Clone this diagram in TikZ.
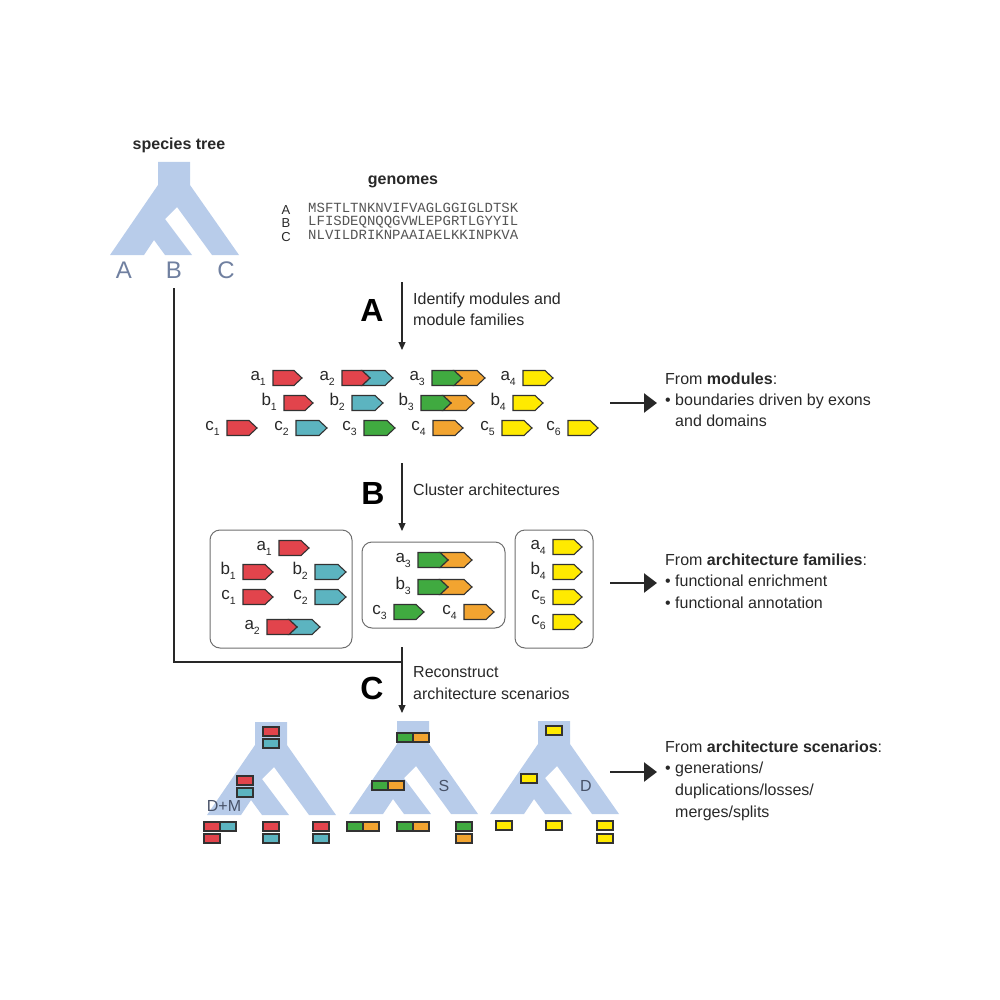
\documentclass[tikz,border=0pt]{standalone}
\usepackage{fontspec}
\setmainfont{Liberation Sans}
\setmonofont{Liberation Mono}
\usetikzlibrary{arrows.meta}
\definecolor{tblue}{RGB}{184,204,234}
\definecolor{mred}{RGB}{226,68,76}
\definecolor{mcyan}{RGB}{92,180,192}
\definecolor{mgreen}{RGB}{64,170,64}
\definecolor{morange}{RGB}{242,164,48}
\definecolor{myellow}{RGB}{255,234,0}
\definecolor{outl}{RGB}{50,50,50}
\definecolor{txtc}{RGB}{40,40,40}
\definecolor{leafc}{RGB}{112,128,160}
\definecolor{evc}{RGB}{72,82,104}
\definecolor{seqc}{RGB}{85,85,85}
\definecolor{boxc}{RGB}{110,110,110}

\newcommand\modarr[4]{\filldraw[modshape,fill=#4] ({#1},{#3-7.5}) -- ({#2-8},{#3-7.5}) -- ({#2},{#3}) -- ({#2-8},{#3+7.5}) -- ({#1},{#3+7.5}) -- cycle;}
\newcommand\twoarr[6]{\filldraw[modshape,fill=#6] ({#2-8},{#4-7.5}) -- ({#3-8},{#4-7.5}) -- ({#3},{#4}) -- ({#3-8},{#4+7.5}) -- ({#2-8},{#4+7.5}) -- ({#2},{#4}) -- cycle;
 \modarr{#1}{#2}{#4}{#5}}
\newcommand\modlabel[5]{\node[modlab,anchor=mid east] (#1) at ({#2-7},{#3}) {#4\raisebox{-0.55ex}{\fontsize{10.5}{10.5}\selectfont #5}};}
\newcommand\gbox[3]{\filldraw[modshape,fill=#3] (#1,#2) rectangle ++(16,9);}
\newcommand\gtree[2]{\fill[tblue] ({#1-16},{#2}) -- ({#1+16},{#2}) -- ({#1+16},{#2+23}) -- ({#1+65},{#2+93}) -- ({#1+38},{#2+93}) -- ({#1+3},{#2+45}) -- ({#1-9},{#2+57}) -- ({#1+18},{#2+93}) -- ({#1-9},{#2+93}) -- ({#1-20},{#2+78}) -- ({#1-30},{#2+93}) -- ({#1-64},{#2+93}) -- ({#1-16},{#2+23}) -- cycle;}

\tikzset{
  modshape/.style={draw=outl,line width=1.1pt,line join=miter},
  modlab/.style={inner sep=0,text=txtc,font=\fontsize{17}{17}\selectfont},
  txt/.style={inner sep=0,text=txtc,font=\fontsize{16}{19}\selectfont,anchor=mid west},
  title/.style={inner sep=0,text=txtc,font=\bfseries\fontsize{16}{19}\selectfont},
  bigl/.style={inner sep=0,text=black,font=\bfseries\fontsize{32}{32}\selectfont},
  leafl/.style={inner sep=0,text=leafc,font=\fontsize{24}{24}\selectfont},
  evl/.style={inner sep=0,text=evc,font=\fontsize{16}{16}\selectfont},
  seql/.style={inner sep=0,text=txtc,font=\fontsize{13}{13}\selectfont},
  seq/.style={inner sep=0,text=seqc,font=\ttfamily\fontsize{14}{14}\selectfont,anchor=mid west},
  steparrow/.style={draw=txtc,line width=1.1pt,-{Triangle[length=8pt,width=7pt]}},
  resarrow/.style={draw=txtc,line width=2.5pt,-{Triangle[length=13pt,width=19pt]}},
  grp/.style={draw=boxc,line width=1pt,rounded corners=10pt},
}

\begin{document}
\begin{tikzpicture}[x=1pt,y=-1pt]
\useasboundingbox (0,0) rectangle (1000,1000);

% species tree
\node[title] (sttitle) at (179,145) {species tree};
\gtree{174}{162}
\node[leafl] (spA) at (124,270) {A};
\node[leafl] (spB) at (174,270) {B};
\node[leafl] (spC) at (226,270) {C};

% genomes
\node[title] (gentitle) at (403,182) {genomes};
\node[seql] (gA) at (286,210) {A};
\node[seql] (gB) at (286,223) {B};
\node[seql] (gC) at (286,237) {C};
\node[seq] (sA) at (308,210) {MSFTLTNKNVIFVAGLGGIGLDTSK};
\node[seq] (sB) at (308,223) {LFISDEQNQQGVWLEPGRTLGYYIL};
\node[seq] (sC) at (308,237) {NLVILDRIKNPAAIAELKKINPKVA};

% step A
\coordinate (aTop) at (402,282);
\coordinate (aBot) at (402,350);
\draw[steparrow] (aTop) -- (aBot);
\node[bigl] (stepA) at (372,310) {A};
\node[txt] (tA1) at (413,302) {Identify modules and};
\node[txt] (tA2) at (413,323) {module families};

% module rows
\modlabel{la1}{273}{378}{a}{1}\modarr{273}{302}{378}{mred}
\modlabel{la2}{342}{378}{a}{2}\twoarr{342}{370}{393}{378}{mred}{mcyan}
\modlabel{la3}{432}{378}{a}{3}\twoarr{432}{462}{485}{378}{mgreen}{morange}
\modlabel{la4}{523}{378}{a}{4}\modarr{523}{553}{378}{myellow}

\modlabel{lb1}{284}{403}{b}{1}\modarr{284}{313}{403}{mred}
\modlabel{lb2}{352}{403}{b}{2}\modarr{352}{383}{403}{mcyan}
\modlabel{lb3}{421}{403}{b}{3}\twoarr{421}{451}{474}{403}{mgreen}{morange}
\modlabel{lb4}{513}{403}{b}{4}\modarr{513}{543}{403}{myellow}

\modlabel{lc1}{227}{428}{c}{1}\modarr{227}{257}{428}{mred}
\modlabel{lc2}{296}{428}{c}{2}\modarr{296}{327}{428}{mcyan}
\modlabel{lc3}{364}{428}{c}{3}\modarr{364}{395}{428}{mgreen}
\modlabel{lc4}{433}{428}{c}{4}\modarr{433}{463}{428}{morange}
\modlabel{lc5}{502}{428}{c}{5}\modarr{502}{532}{428}{myellow}
\modlabel{lc6}{568}{428}{c}{6}\modarr{568}{598}{428}{myellow}

% result 1
\coordinate (r1s) at (610,403);
\coordinate (r1e) at (657,403);
\draw[resarrow] (r1s) -- (r1e);
\node[txt] (r1a) at (665,382) {From \textbf{modules}:};
\node[txt] (r1b) at (665,403) {\textbullet\ boundaries driven by exons};
\node[txt] (r1c) at (675,424) {and domains};

% step B
\coordinate (bTop) at (402,463);
\coordinate (bBot) at (402,531);
\draw[steparrow] (bTop) -- (bBot);
\node[bigl] (stepB) at (373,493) {B};
\node[txt] (tB1) at (413,493) {Cluster architectures};

% boxes
\draw[grp] (210,530) rectangle (352,648);
\draw[grp] (362,542) rectangle (505,628);
\draw[grp] (515,530) rectangle (593,648);

\modlabel{ma1}{279}{548}{a}{1}\modarr{279}{309}{548}{mred}
\modlabel{mb1}{243}{572}{b}{1}\modarr{243}{273}{572}{mred}
\modlabel{mb2}{315}{572}{b}{2}\modarr{315}{346}{572}{mcyan}
\modlabel{mc1}{243}{597}{c}{1}\modarr{243}{273}{597}{mred}
\modlabel{mc2}{315}{597}{c}{2}\modarr{315}{346}{597}{mcyan}
\modlabel{ma2}{267}{627}{a}{2}\twoarr{267}{297}{320}{627}{mred}{mcyan}

\modlabel{ma3}{418}{560}{a}{3}\twoarr{418}{448}{472}{560}{mgreen}{morange}
\modlabel{mb3}{418}{587}{b}{3}\twoarr{418}{448}{472}{587}{mgreen}{morange}
\modlabel{mc3}{394}{612}{c}{3}\modarr{394}{424}{612}{mgreen}
\modlabel{mc4}{464}{612}{c}{4}\modarr{464}{494}{612}{morange}

\modlabel{ma4}{553}{547}{a}{4}\modarr{553}{582}{547}{myellow}
\modlabel{mb4}{553}{572}{b}{4}\modarr{553}{582}{572}{myellow}
\modlabel{mc5}{553}{597}{c}{5}\modarr{553}{582}{597}{myellow}
\modlabel{mc6}{553}{622}{c}{6}\modarr{553}{582}{622}{myellow}

% result 2
\coordinate (r2s) at (610,583);
\coordinate (r2e) at (657,583);
\draw[resarrow] (r2s) -- (r2e);
\node[txt] (r2a) at (665,563) {From \textbf{architecture families}:};
\node[txt] (r2b) at (665,584) {\textbullet\ functional enrichment};
\node[txt] (r2c) at (665,606) {\textbullet\ functional annotation};

% species tree connector and step C
\coordinate (spLine) at (174,288);
\coordinate (joint) at (402,662);
\coordinate (cTop) at (402,647);
\coordinate (cBot) at (402,713);
\draw[draw=txtc,line width=1.1pt] (spLine) |- (joint);
\draw[steparrow] (cTop) -- (cBot);
\node[bigl] (stepC) at (372,688) {C};
\node[txt] (tC1) at (413,675) {Reconstruct};
\node[txt] (tC2) at (413,697) {architecture scenarios};

% scenario tree 1
\gtree{271}{722}
\gbox{263}{727}{mred}\gbox{263}{739}{mcyan}
\gbox{237}{776}{mred}\gbox{237}{788}{mcyan}
\node[evl] (dm) at (224,806) {D+M};
\gbox{204}{822}{mred}\gbox{220}{822}{mcyan}\gbox{204}{834}{mred}
\gbox{263}{822}{mred}\gbox{263}{834}{mcyan}
\gbox{313}{822}{mred}\gbox{313}{834}{mcyan}

% scenario tree 2
\gtree{413}{721}
\gbox{397}{733}{mgreen}\gbox{413}{733}{morange}
\gbox{372}{781}{mgreen}\gbox{388}{781}{morange}
\node[evl] (ev2) at (444,786) {S};
\gbox{347}{822}{mgreen}\gbox{363}{822}{morange}
\gbox{397}{822}{mgreen}\gbox{413}{822}{morange}
\gbox{456}{822}{mgreen}\gbox{456}{834}{morange}

% scenario tree 3
\gtree{554}{721}
\gbox{546}{726}{myellow}
\gbox{521}{774}{myellow}
\node[evl] (ev3) at (586,786) {D};
\gbox{496}{821}{myellow}
\gbox{546}{821}{myellow}
\gbox{597}{821}{myellow}\gbox{597}{834}{myellow}

% result 3
\coordinate (r3s) at (610,772);
\coordinate (r3e) at (657,772);
\draw[resarrow] (r3s) -- (r3e);
\node[txt] (r3a) at (665,750) {From \textbf{architecture scenarios}:};
\node[txt] (r3b) at (665,771) {\textbullet\ generations/};
\node[txt] (r3c) at (675,793) {duplications/losses/};
\node[txt] (r3d) at (675,815) {merges/splits};
\end{tikzpicture}
\end{document}
